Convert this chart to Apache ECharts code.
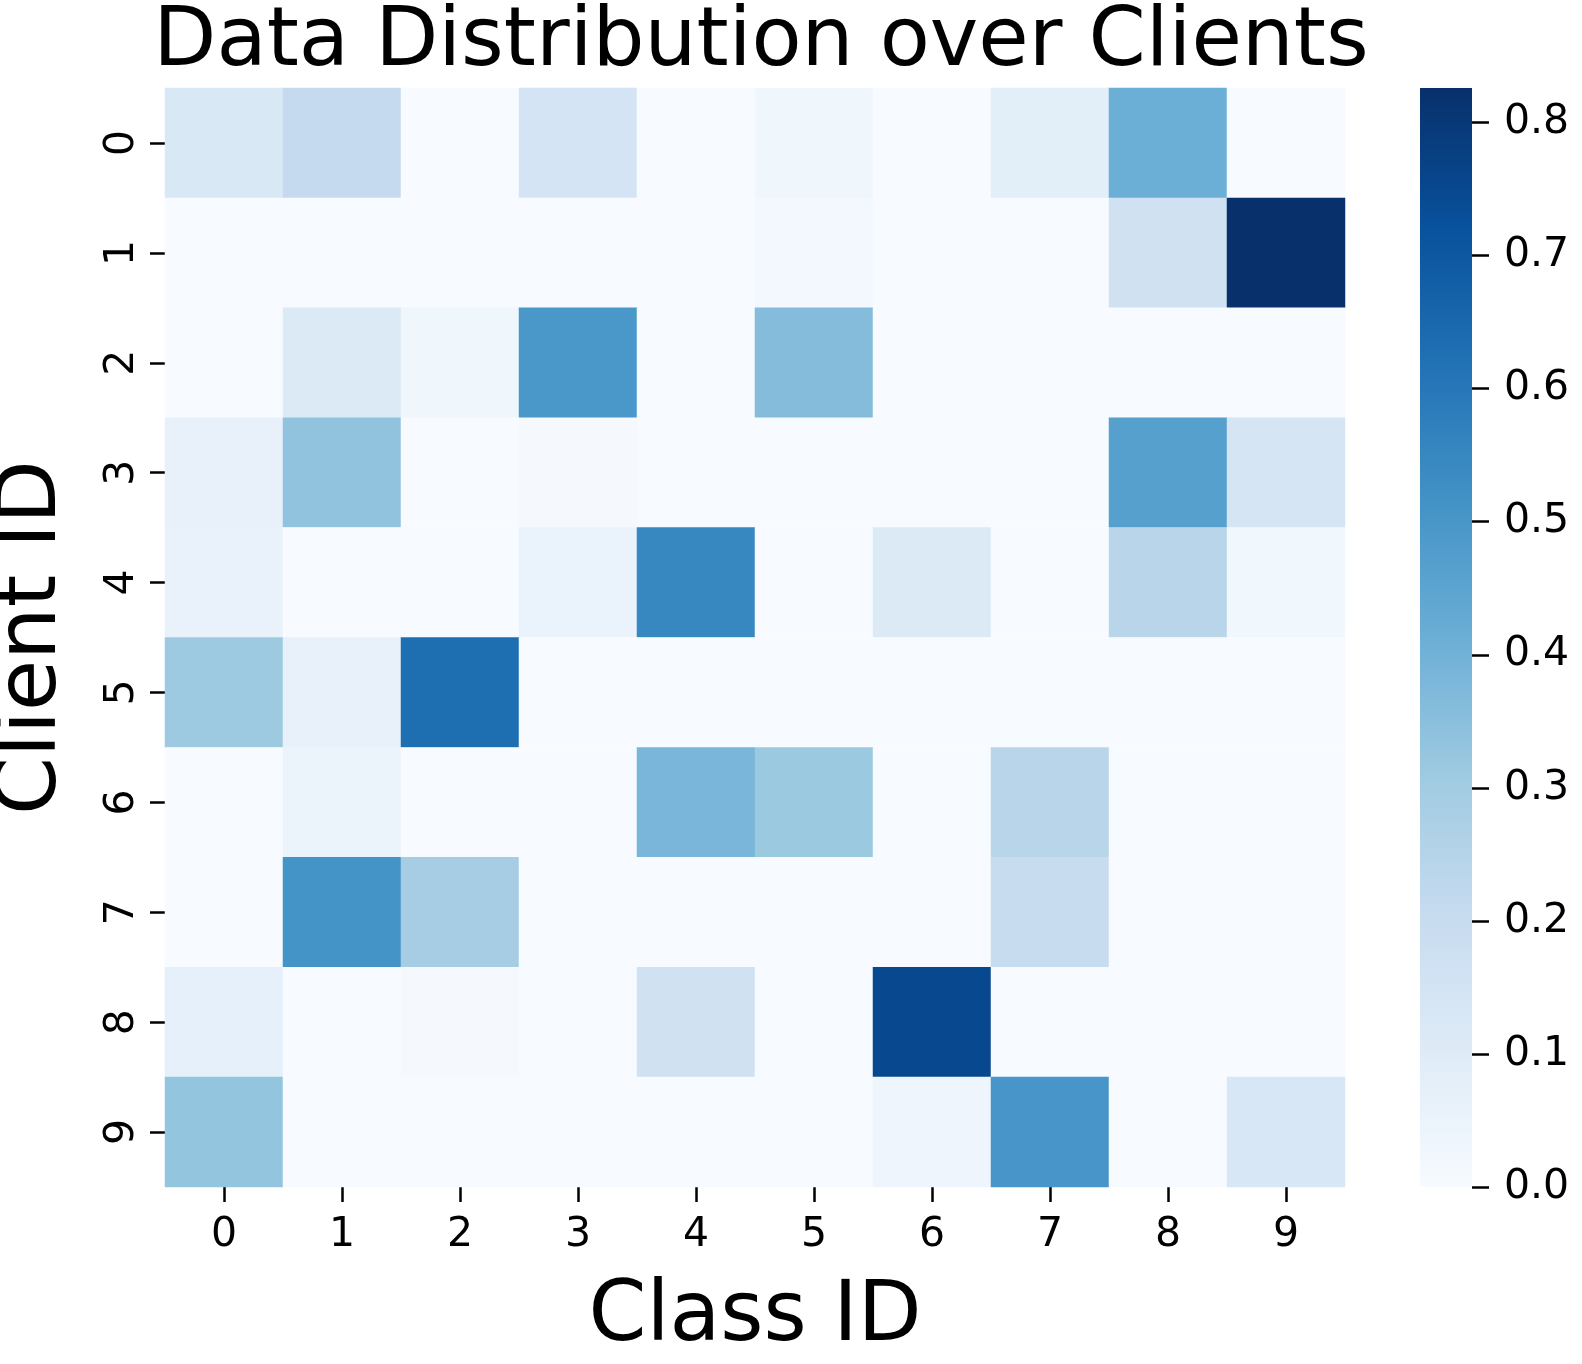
<!DOCTYPE html>
<html lang="en">
<head>
  <meta charset="UTF-8">
  <title>Data Distribution over Clients</title>
  <style>
    html, body { margin: 0; padding: 0; background: #fff; overflow: hidden; }
    #chart { width: 100vw; height: 100vh; }
  </style>
</head>
<body>
  <div id="chart"></div>
  <script src="https://cdn.jsdelivr.net/npm/echarts@6/dist/echarts.min.js"></script>
  <script>
    var classIds = ['0', '1', '2', '3', '4', '5', '6', '7', '8', '9'];
    var clientIds = ['0', '1', '2', '3', '4', '5', '6', '7', '8', '9'];

    // share of each class per client, one row per client
    var client0 = [0.125, 0.21, 0.0, 0.146, 0.0, 0.033, 0.0, 0.087, 0.41, 0.0];
    var client1 = [0.0, 0.0, 0.0, 0.0, 0.0, 0.02, 0.0, 0.0, 0.165, 0.826];
    var client2 = [0.0, 0.11, 0.033, 0.496, 0.0, 0.36, 0.0, 0.0, 0.0, 0.0];
    var client3 = [0.062, 0.334, 0.0, 0.01, 0.0, 0.0, 0.0, 0.0, 0.466, 0.14];
    var client4 = [0.058, 0.0, 0.0, 0.054, 0.55, 0.0, 0.11, 0.0, 0.24, 0.029];
    var client5 = [0.31, 0.062, 0.63, 0.0, 0.0, 0.0, 0.0, 0.0, 0.0, 0.0];
    var client6 = [0.0, 0.05, 0.0, 0.0, 0.385, 0.315, 0.0, 0.24, 0.0, 0.0];
    var client7 = [0.0, 0.51, 0.29, 0.0, 0.0, 0.0, 0.0, 0.2, 0.0, 0.0];
    var client8 = [0.07, 0.0, 0.01, 0.0, 0.165, 0.0, 0.75, 0.0, 0.0, 0.0];
    var client9 = [0.33, 0.0, 0.0, 0.0, 0.0, 0.0, 0.037, 0.5, 0.0, 0.13];

    var colorTicks = [0, 0.1, 0.2, 0.3, 0.4, 0.5, 0.6, 0.7, 0.8];
    var vmax = 0.826;
    // matplotlib "Blues"
    var blues = ['#f7fbff', '#deebf7', '#c6dbef', '#9ecae1', '#6baed6',
                 '#4292c6', '#2171b5', '#08519c', '#08306b'];

    var rows = [client0, client1, client2, client3, client4,
                client5, client6, client7, client8, client9];
    var cells = [];
    rows.forEach(function (row, y) {
      row.forEach(function (v, x) {
        cells.push([x, y, v]);
      });
    });

    // colorbar gradient, bottom = 0, top = vmax
    var barStops = blues.map(function (c, i) {
      return { offset: 1 - i / (blues.length - 1), color: c };
    }).reverse();

    var font = 'DejaVu Sans';
    var hiddenLine = { show: true, onZero: false, lineStyle: { color: 'rgba(0,0,0,0)', width: 0 } };
    var tick = { show: true, alignWithLabel: true, length: 15, lineStyle: { color: '#000', width: 2.5 } };

    var chart = echarts.init(document.getElementById('chart'));
    chart.setOption({
      backgroundColor: '#fff',
      animation: false,
      textStyle: { fontFamily: font, color: '#000' },
      title: {
        text: 'Data Distribution over Clients',
        left: 756,
        textAlign: 'center',
        top: -2,
        textStyle: { fontFamily: font, fontSize: 82, fontWeight: 'normal', color: '#000' }
      },
      grid: [
        { left: 165, top: 88, width: 1180, height: 1099, containLabel: false, outerBoundsMode: 'none' },
        { left: 1420, top: 88, width: 52, height: 1099, containLabel: false, outerBoundsMode: 'none' }
      ],
      graphic: [{
        type: 'rect',
        z: -1,
        shape: { x: 1420, y: 88, width: 52, height: 1099 },
        style: {
          fill: new echarts.graphic.LinearGradient(0, 0, 0, 1, barStops)
        }
      }],
      xAxis: [{
        type: 'category',
        data: classIds,
        position: 'bottom',
        axisLine: hiddenLine,
        axisTick: tick,
        axisLabel: { fontSize: 41, margin: 28, color: '#000', fontFamily: font },
        splitLine: { show: false },
        name: 'Class ID',
        nameLocation: 'middle',
        nameGap: 90,
        nameTextStyle: { fontSize: 83, fontFamily: font, color: '#000' }
      }, {
        gridIndex: 1,
        type: 'value',
        show: false
      }],
      yAxis: [{
        type: 'category',
        data: clientIds,
        inverse: true,
        axisLine: hiddenLine,
        axisTick: tick,
        axisLabel: { fontSize: 41, margin: 22, rotate: 90, color: '#000', fontFamily: font },
        splitLine: { show: false },
        name: 'Client ID',
        nameLocation: 'middle',
        nameGap: 90,
        nameRotate: 90,
        nameTextStyle: { fontSize: 83, fontFamily: font, color: '#000' }
      }, {
        gridIndex: 1,
        type: 'value',
        position: 'right',
        min: 0,
        max: vmax,
        interval: 0.1,
        axisLine: hiddenLine,
        axisTick: { show: true, inside: false, length: 17, lineStyle: { color: '#000', width: 2.5 } },
        axisLabel: {
          fontSize: 41, margin: 32, color: '#000', fontFamily: font,
          showMaxLabel: false,
          formatter: function (v) {
            return colorTicks.some(function (t) { return Math.abs(t - v) < 1e-6; }) ? v.toFixed(1) : '';
          }
        },
        splitLine: { show: false }
      }],
      visualMap: {
        type: 'continuous',
        min: 0,
        max: vmax,
        show: false,
        seriesIndex: 0,
        inRange: { color: blues }
      },
      series: [{
        type: 'heatmap',
        xAxisIndex: 0,
        yAxisIndex: 0,
        data: cells,
        itemStyle: { borderWidth: 0 },
        emphasis: { disabled: true }
      }]
    });
  </script>
</body>
</html>
